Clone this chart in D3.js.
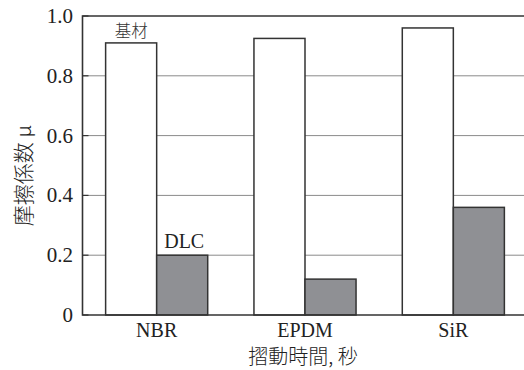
<!DOCTYPE html>
<html><head><meta charset="utf-8">
<script src="https://cdn.jsdelivr.net/npm/d3@7"></script>
<style>body{margin:0;background:#fff}svg{display:block}</style>
</head><body>
<script>
const categories = ["NBR", "EPDM", "SiR"];
const seriesNames = ["基材", "DLC"];
const baseValues = [0.91, 0.925, 0.96];
const dlcValues = [0.20, 0.12, 0.36];
const yTicks = [0, 0.2, 0.4, 0.6, 0.8, 1.0];
const yTickLabels = ["0", "0.2", "0.4", "0.6", "0.8", "1.0"];
const yLabel = "摩擦係数 μ";
const xLabel = "摺動時間, 秒";

const W = 524, H = 370;
const m = {left: 82.5, top: 16, bottom: 315, right: 527.5};
const svg = d3.select("body").append("svg").attr("width", W).attr("height", H);

const SERIF = '"Liberation Serif", "Times New Roman", serif';
const CJK = '"Noto Sans CJK JP", "Noto Sans CJK SC", sans-serif';

const y = d3.scaleLinear().domain([0, 1]).range([m.bottom, m.top]);
const x0 = d3.scaleBand().domain(categories).range([m.left, m.right]).padding(0);
const x1 = d3.scaleBand().domain(seriesNames).range([0, x0.bandwidth()]).paddingInner(0).paddingOuter(0.453);

// gridlines
svg.append("g").selectAll("line").data(yTicks.filter(t => t > 0 && t < 1)).join("line")
  .attr("x1", m.left).attr("x2", m.right)
  .attr("y1", d => y(d)).attr("y2", d => y(d))
  .attr("stroke", "#8a8a8a").attr("stroke-width", 1);

// bars
const rows = categories.map((c, i) => ({c, vals: [{s: seriesNames[0], v: baseValues[i]}, {s: seriesNames[1], v: dlcValues[i]}]}));
const g = svg.append("g").selectAll("g").data(rows).join("g")
  .attr("transform", d => `translate(${x0(d.c)},0)`);
g.selectAll("rect").data(d => d.vals).join("rect")
  .attr("x", d => x1(d.s)).attr("width", x1.bandwidth())
  .attr("y", d => y(d.v)).attr("height", d => y(0) - y(d.v))
  .attr("fill", d => d.s === seriesNames[0] ? "#ffffff" : "#8f9094")
  .attr("stroke", "#333").attr("stroke-width", 1.5);

// frame
svg.append("path")
  .attr("d", `M${m.right},${m.top}H${m.left}V${m.bottom}H${m.right}`)
  .attr("fill", "none").attr("stroke", "#333").attr("stroke-width", 1.6);

// y ticks (inward)
svg.append("g").selectAll("line").data(yTicks).join("line")
  .attr("x1", m.left).attr("x2", m.left + 6)
  .attr("y1", d => y(d)).attr("y2", d => y(d))
  .attr("stroke", "#333").attr("stroke-width", 1.2);
svg.append("g").selectAll("text").data(yTicks).join("text")
  .style("font-family", SERIF).style("font-size", "21px")
  .attr("x", 73).attr("y", d => y(d)).attr("dy", "0.33em")
  .attr("text-anchor", "end").attr("fill", "#222")
  .text((d, i) => yTickLabels[i]);

// x labels
svg.append("g").selectAll("text").data(categories).join("text")
  .style("font-family", SERIF).style("font-size", "20px")
  .attr("x", d => x0(d) + x0.bandwidth() / 2).attr("y", 337)
  .attr("text-anchor", "middle").attr("fill", "#222")
  .text(d => d);

svg.append("text").style("font-family", CJK).style("font-size", "20px").style("font-weight", 300)
  .attr("x", 303).attr("y", 364).attr("text-anchor", "middle")
  .attr("fill", "#222").text(xLabel);

svg.append("text").style("font-family", CJK).style("font-size", "21px").style("font-weight", 300)
  .attr("transform", "translate(30.5,175.5) rotate(-90)").attr("text-anchor", "middle")
  .attr("fill", "#222").text(yLabel);

// series annotations
svg.append("text").style("font-family", CJK).style("font-size", "16.5px").style("font-weight", 300)
  .attr("x", x0(categories[0]) + x1(seriesNames[0]) + x1.bandwidth() / 2).attr("y", 37)
  .attr("text-anchor", "middle").attr("fill", "#333")
  .text(seriesNames[0]);
svg.append("text").style("font-family", SERIF).style("font-size", "20px")
  .attr("x", x0(categories[0]) + x1(seriesNames[1]) + x1.bandwidth() / 2 + 2).attr("y", 248)
  .attr("text-anchor", "middle").attr("fill", "#222")
  .text(seriesNames[1]);
</script>
</body></html>
